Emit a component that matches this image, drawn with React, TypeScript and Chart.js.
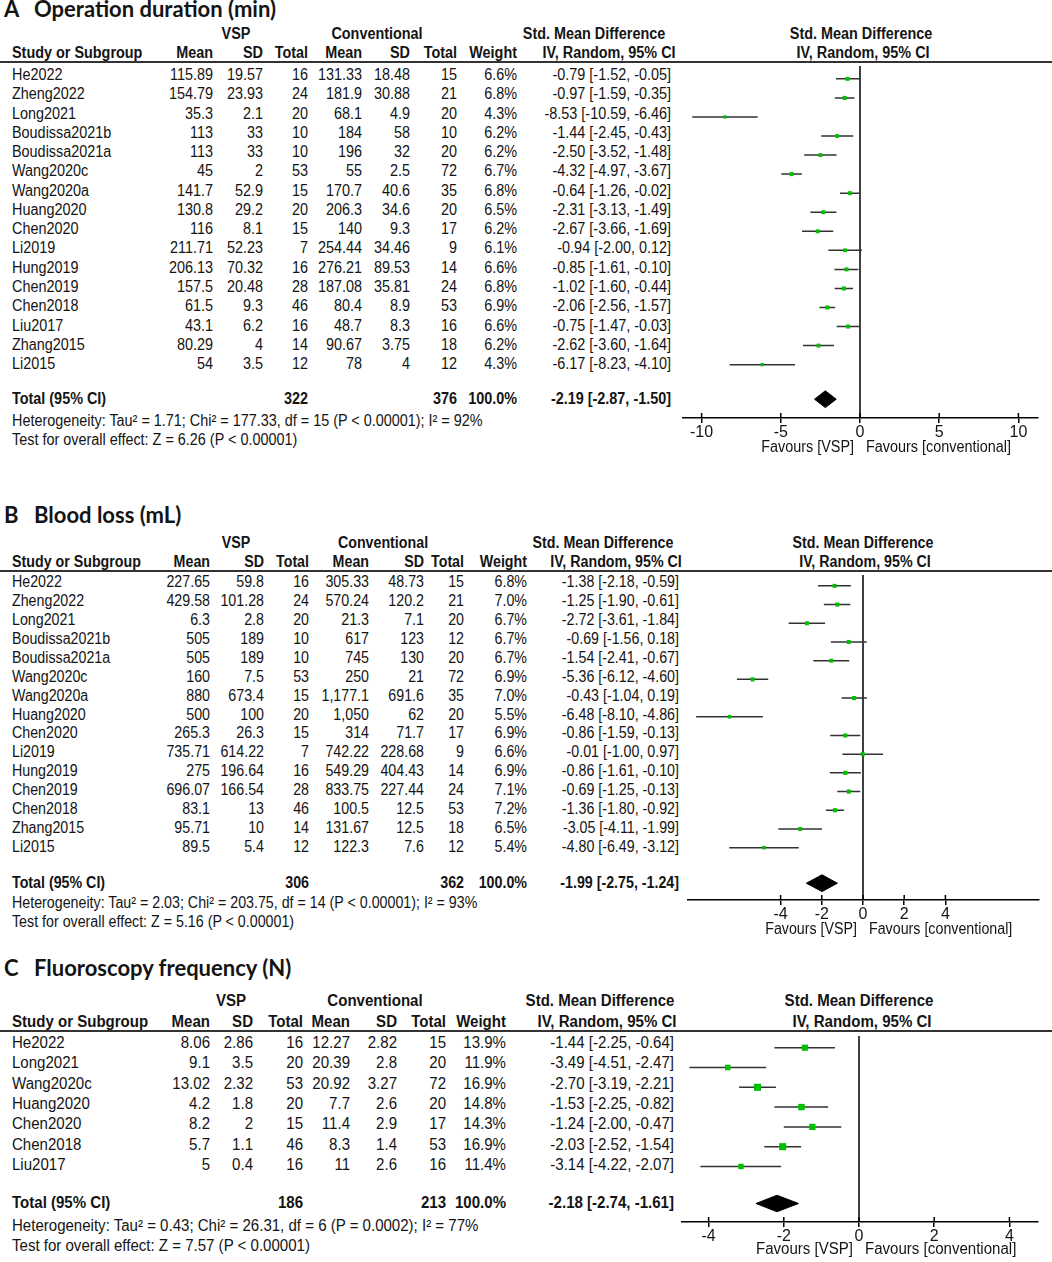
import React, { useEffect, useRef } from "react";
import { Chart, registerables } from "chart.js";
Chart.register(...registerables);

// ---------------- Panel A: Operation duration (min) ----------------
const aStudies = ["He2022", "Zheng2022", "Long2021", "Boudissa2021b", "Boudissa2021a", "Wang2020c", "Wang2020a", "Huang2020", "Chen2020", "Li2019", "Hung2019", "Chen2019", "Chen2018", "Liu2017", "Zhang2015", "Li2015"];
const aVspMean = [115.89, 154.79, 35.3, 113, 113, 45, 141.7, 130.8, 116, 211.71, 206.13, 157.5, 61.5, 43.1, 80.29, 54];
const aVspSd = [19.57, 23.93, 2.1, 33, 33, 2, 52.9, 29.2, 8.1, 52.23, 70.32, 20.48, 9.3, 6.2, 4, 3.5];
const aVspN = [16, 24, 20, 10, 10, 53, 15, 20, 15, 7, 16, 28, 46, 16, 14, 12];
const aConMean = [131.33, 181.9, 68.1, 184, 196, 55, 170.7, 206.3, 140, 254.44, 276.21, 187.08, 80.4, 48.7, 90.67, 78];
const aConSd = [18.48, 30.88, 4.9, 58, 32, 2.5, 40.6, 34.6, 9.3, 34.46, 89.53, 35.81, 8.9, 8.3, 3.75, 4];
const aConN = [15, 21, 20, 10, 20, 72, 35, 20, 17, 9, 14, 24, 53, 16, 18, 12];
const aWeight = [6.6, 6.8, 4.3, 6.2, 6.2, 6.7, 6.8, 6.5, 6.2, 6.1, 6.6, 6.8, 6.9, 6.6, 6.2, 4.3];
const aSmd = [-0.79, -0.97, -8.53, -1.44, -2.5, -4.32, -0.64, -2.31, -2.67, -0.94, -0.85, -1.02, -2.06, -0.75, -2.62, -6.17];
const aLo = [-1.52, -1.59, -10.59, -2.45, -3.52, -4.97, -1.26, -3.13, -3.66, -2.0, -1.61, -1.6, -2.56, -1.47, -3.6, -8.23];
const aHi = [-0.05, -0.35, -6.46, -0.43, -1.48, -3.67, -0.02, -1.49, -1.69, 0.12, -0.1, -0.44, -1.57, -0.03, -1.64, -4.1];
const aTotalN = [322, 376];
const aTotalCi = [-2.19, -2.87, -1.5];
const aHet = "Heterogeneity: Tau² = 1.71; Chi² = 177.33, df = 15 (P < 0.00001); I² = 92%";
const aTest = "Test for overall effect: Z = 6.26 (P < 0.00001)";
const aTicks = [-10, -5, 0, 5, 10];

// ---------------- Panel B: Blood loss (mL) ----------------
const bStudies = ["He2022", "Zheng2022", "Long2021", "Boudissa2021b", "Boudissa2021a", "Wang2020c", "Wang2020a", "Huang2020", "Chen2020", "Li2019", "Hung2019", "Chen2019", "Chen2018", "Zhang2015", "Li2015"];
const bVspMean = [227.65, 429.58, 6.3, 505, 505, 160, 880, 500, 265.3, 735.71, 275, 696.07, 83.1, 95.71, 89.5];
const bVspSd = [59.8, 101.28, 2.8, 189, 189, 7.5, 673.4, 100, 26.3, 614.22, 196.64, 166.54, 13, 10, 5.4];
const bVspN = [16, 24, 20, 10, 10, 53, 15, 20, 15, 7, 16, 28, 46, 14, 12];
const bConMean = [305.33, 570.24, 21.3, 617, 745, 250, 1177.1, 1050, 314, 742.22, 549.29, 833.75, 100.5, 131.67, 122.3];
const bConSd = [48.73, 120.2, 7.1, 123, 130, 21, 691.6, 62, 71.7, 228.68, 404.43, 227.44, 12.5, 12.5, 7.6];
const bConN = [15, 21, 20, 12, 20, 72, 35, 20, 17, 9, 14, 24, 53, 18, 12];
const bWeight = [6.8, 7.0, 6.7, 6.7, 6.7, 6.9, 7.0, 5.5, 6.9, 6.6, 6.9, 7.1, 7.2, 6.5, 5.4];
const bSmd = [-1.38, -1.25, -2.72, -0.69, -1.54, -5.36, -0.43, -6.48, -0.86, -0.01, -0.86, -0.69, -1.36, -3.05, -4.8];
const bLo = [-2.18, -1.9, -3.61, -1.56, -2.41, -6.12, -1.04, -8.1, -1.59, -1.0, -1.61, -1.25, -1.8, -4.11, -6.49];
const bHi = [-0.59, -0.61, -1.84, 0.18, -0.67, -4.6, 0.19, -4.86, -0.13, 0.97, -0.1, -0.13, -0.92, -1.99, -3.12];
const bTotalN = [306, 362];
const bTotalCi = [-1.99, -2.75, -1.24];
const bHet = "Heterogeneity: Tau² = 2.03; Chi² = 203.75, df = 14 (P < 0.00001); I² = 93%";
const bTest = "Test for overall effect: Z = 5.16 (P < 0.00001)";
const bTicks = [-4, -2, 0, 2, 4];

// ---------------- Panel C: Fluoroscopy frequency (N) ----------------
const cStudies = ["He2022", "Long2021", "Wang2020c", "Huang2020", "Chen2020", "Chen2018", "Liu2017"];
const cVspMean = [8.06, 9.1, 13.02, 4.2, 8.2, 5.7, 5];
const cVspSd = [2.86, 3.5, 2.32, 1.8, 2, 1.1, 0.4];
const cVspN = [16, 20, 53, 20, 15, 46, 16];
const cConMean = [12.27, 20.39, 20.92, 7.7, 11.4, 8.3, 11];
const cConSd = [2.82, 2.8, 3.27, 2.6, 2.9, 1.4, 2.6];
const cConN = [15, 20, 72, 20, 17, 53, 16];
const cWeight = [13.9, 11.9, 16.9, 14.8, 14.3, 16.9, 11.4];
const cSmd = [-1.44, -3.49, -2.7, -1.53, -1.24, -2.03, -3.14];
const cLo = [-2.25, -4.51, -3.19, -2.25, -2.0, -2.52, -4.22];
const cHi = [-0.64, -2.47, -2.21, -0.82, -0.47, -1.54, -2.07];
const cTotalN = [186, 213];
const cTotalCi = [-2.18, -2.74, -1.61];
const cHet = "Heterogeneity: Tau² = 0.43; Chi² = 26.31, df = 6 (P = 0.0002); I² = 77%";
const cTest = "Test for overall effect: Z = 7.57 (P < 0.00001)";
const cTicks = [-4, -2, 0, 2, 4];

// ---------------- layout ----------------
type PanelData = {
  letter: string; title: string; studies: string[];
  vspMean: number[]; vspSd: number[]; vspN: number[];
  conMean: number[]; conSd: number[]; conN: number[];
  weight: number[]; smd: number[]; lo: number[]; hi: number[];
  totalN: number[]; totalCi: number[]; het: string; test: string; ticks: number[];
};
type Layout = {
  titleY: number; hdr1Y: number; hdr2Y: number; lineY: number; row0Y: number; step: number;
  totalY: number; hetY: number; testY: number; axisY: number; favY: number;
  zeroX: number; ppu: number; axisLeft: number; axisRight: number;
  cols: number[]; vspC: number; conC: number; smdC: number; ivC: number; fSmdC: number; fIvC: number;
  sx: number;
};

const panelA: PanelData = { letter: "A", title: "Operation duration (min)", studies: aStudies, vspMean: aVspMean, vspSd: aVspSd, vspN: aVspN, conMean: aConMean, conSd: aConSd, conN: aConN, weight: aWeight, smd: aSmd, lo: aLo, hi: aHi, totalN: aTotalN, totalCi: aTotalCi, het: aHet, test: aTest, ticks: aTicks };
const panelB: PanelData = { letter: "B", title: "Blood loss (mL)", studies: bStudies, vspMean: bVspMean, vspSd: bVspSd, vspN: bVspN, conMean: bConMean, conSd: bConSd, conN: bConN, weight: bWeight, smd: bSmd, lo: bLo, hi: bHi, totalN: bTotalN, totalCi: bTotalCi, het: bHet, test: bTest, ticks: bTicks };
const panelC: PanelData = { letter: "C", title: "Fluoroscopy frequency (N)", studies: cStudies, vspMean: cVspMean, vspSd: cVspSd, vspN: cVspN, conMean: cConMean, conSd: cConSd, conN: cConN, weight: cWeight, smd: cSmd, lo: cLo, hi: cHi, totalN: cTotalN, totalCi: cTotalCi, het: cHet, test: cTest, ticks: cTicks };

const layoutA: Layout = { titleY: 9, hdr1Y: 34, hdr2Y: 53, lineY: 62, row0Y: 75, step: 19.27, totalY: 399, hetY: 421, testY: 440, axisY: 418, favY: 447, zeroX: 860, ppu: 15.84, axisLeft: 683, axisRight: 1038, cols: [213, 263, 308, 362, 410, 457, 517, 671], vspC: 236, conC: 377, smdC: 594, ivC: 609, fSmdC: 861, fIvC: 863, sx: 0.9 };
const layoutB: Layout = { titleY: 515, hdr1Y: 543, hdr2Y: 562, lineY: 571, row0Y: 582, step: 18.93, totalY: 883, hetY: 903, testY: 922, axisY: 900, favY: 929, zeroX: 863, ppu: 20.6, axisLeft: 688, axisRight: 1039, cols: [210, 264, 309, 369, 424, 464, 527, 679], vspC: 236, conC: 383, smdC: 603, ivC: 616, fSmdC: 863, fIvC: 865, sx: 0.89 };
const layoutC: Layout = { titleY: 968, hdr1Y: 1001, hdr2Y: 1022, lineY: 1031, row0Y: 1043, step: 20.33, totalY: 1203, hetY: 1226, testY: 1246, axisY: 1222, favY: 1249, zeroX: 859, ppu: 37.6, axisLeft: 682, axisRight: 1038, cols: [210, 253, 303, 350, 397, 446, 506, 674], vspC: 231, conC: 375, smdC: 600, ivC: 607, fSmdC: 859, fIvC: 862, sx: 0.94 };

const TEXT = "#141414";
const FONT = "'Liberation Sans', Arial, sans-serif";

const fmt = (v: number) => v.toLocaleString("en-US", { maximumFractionDigits: 2 });
const ci = (e: number, l: number, h: number) => `${e.toFixed(2)} [${l.toFixed(2)}, ${h.toFixed(2)}]`;

function T(props: { x: number; y: number; text: string; align?: "left" | "right" | "center"; bold?: boolean; size?: number; sx?: number; font?: string }) {
  const { x, y, text, align = "left", bold = false, size = 16, sx = 1, font = FONT } = props;
  const W = 1000;
  let left = x;
  if (align === "right") left = x - W;
  if (align === "center") left = x - W / 2;
  return (
    <div
      style={{
        position: "absolute", left, top: y - size / 2, width: W, height: size, lineHeight: `${size}px`,
        fontSize: size, fontWeight: bold ? 700 : 400, textAlign: align, whiteSpace: "nowrap",
        transform: `scaleX(${sx})`, transformOrigin: `${align} center`, fontFamily: font, color: TEXT,
      }}
    >
      {text}
    </div>
  );
}

const tickUp = {
  id: "tickUp",
  afterDraw(chart: any) {
    const s = chart.scales.x;
    const ctx = chart.ctx;
    const b = chart.chartArea.bottom;
    ctx.save();
    ctx.strokeStyle = "#000";
    ctx.lineWidth = 1.5;
    s.ticks.forEach((t: any) => {
      const px = s.getPixelForValue(t.value);
      ctx.beginPath();
      ctx.moveTo(px, b - 5);
      ctx.lineTo(px, b);
      ctx.stroke();
    });
    ctx.restore();
  },
};

function Forest({ d, L }: { d: PanelData; L: Layout }) {
  const ref = useRef<HTMLCanvasElement>(null);
  const plotH = L.axisY - L.lineY;
  const H = plotH + 26;
  useEffect(() => {
    const yMin = (L.lineY - L.row0Y) / L.step;
    const yMax = (L.axisY - L.row0Y) / L.step;
    const yT = (L.totalY - L.row0Y) / L.step;
    const dh = 8.5 / L.step;
    const ciData: any[] = [];
    d.lo.forEach((lo, i) => {
      ciData.push({ x: lo, y: i }, { x: d.hi[i], y: i }, { x: d.smd[i], y: null });
    });
    const [est, tlo, thi] = d.totalCi;
    const chart = new Chart(ref.current as HTMLCanvasElement, {
      type: "scatter",
      data: {
        datasets: [
          { type: "line", data: [{ x: 0, y: yMin }, { x: 0, y: yMax }], borderColor: "#000", borderWidth: 1.5, pointRadius: 0, order: 3 } as any,
          { type: "line", data: ciData, borderColor: "#333", borderWidth: 1.5, pointRadius: 0, spanGaps: false, order: 2 } as any,
          {
            type: "scatter", data: d.smd.map((v, i) => ({ x: v, y: i })), pointStyle: "rect",
            pointRadius: d.weight.map((w) => (2 + 0.3 * w) / Math.SQRT2), backgroundColor: "#00c000", borderWidth: 0, order: 0,
          } as any,
          {
            type: "line",
            data: [{ x: tlo, y: yT }, { x: est, y: yT - dh }, { x: thi, y: yT }, { x: est, y: yT + dh }, { x: tlo, y: yT }],
            fill: "shape", backgroundColor: "#000", borderColor: "#000", borderWidth: 1, pointRadius: 0, tension: 0, order: 1,
          } as any,
        ],
      },
      options: {
        responsive: false,
        animation: false,
        events: [],
        layout: { padding: { left: L.axisLeft, right: 1052 - L.axisRight, top: 0, bottom: 0 } },
        plugins: { legend: { display: false }, tooltip: { enabled: false } },
        scales: {
          x: {
            type: "linear",
            min: (L.axisLeft - L.zeroX) / L.ppu,
            max: (L.axisRight - L.zeroX) / L.ppu,
            afterBuildTicks: (s: any) => { s.ticks = d.ticks.map((v) => ({ value: v })); },
            afterFit: (s: any) => { s.height = H - plotH; },
            grid: { drawOnChartArea: false, drawTicks: true, tickLength: 5, color: "#000", lineWidth: 1.5 },
            border: { display: true, color: "#000", width: 1.5 },
            ticks: { autoSkip: false, maxRotation: 0, padding: 0, color: TEXT, font: { family: FONT, size: 16 } },
          },
          y: { type: "linear", display: false, reverse: true, min: yMin, max: yMax },
        },
      } as any,
      plugins: [tickUp],
    });
    return () => chart.destroy();
  }, []);
  return <canvas ref={ref} width={1052} height={H} style={{ position: "absolute", left: 0, top: L.lineY, width: 1052, height: H }} />;
}

function Panel({ d, L }: { d: PanelData; L: Layout }) {
  const s = L.sx;
  const c = L.cols;
  const hdr2 = ["Mean", "SD", "Total", "Mean", "SD", "Total", "Weight"];
  const titleFont = "Lato, 'Open Sans', sans-serif";
  return (
    <>
      <T x={4} y={L.titleY} text={d.letter} bold size={22} font={titleFont} />
      <T x={34} y={L.titleY} text={d.title} bold size={22} font={titleFont} />
      <T x={L.vspC} y={L.hdr1Y} text="VSP" bold align="center" sx={s} />
      <T x={L.conC} y={L.hdr1Y} text="Conventional" bold align="center" sx={s} />
      <T x={L.smdC} y={L.hdr1Y} text="Std. Mean Difference" bold align="center" sx={s} />
      <T x={L.fSmdC} y={L.hdr1Y} text="Std. Mean Difference" bold align="center" sx={s} />
      <T x={12} y={L.hdr2Y} text="Study or Subgroup" bold sx={s} />
      {hdr2.map((h, i) => <T key={"h" + i} x={c[i]} y={L.hdr2Y} text={h} bold align="right" sx={s} />)}
      <T x={L.ivC} y={L.hdr2Y} text="IV, Random, 95% CI" bold align="center" sx={s} />
      <T x={L.fIvC} y={L.hdr2Y} text="IV, Random, 95% CI" bold align="center" sx={s} />
      <div style={{ position: "absolute", left: 0, top: L.lineY - 1, width: 1052, height: 2, background: "#333" }} />
      {d.studies.map((name, i) => {
        const y = L.row0Y + i * L.step;
        const vals = [fmt(d.vspMean[i]), fmt(d.vspSd[i]), String(d.vspN[i]), fmt(d.conMean[i]), fmt(d.conSd[i]), String(d.conN[i]), d.weight[i].toFixed(1) + "%", ci(d.smd[i], d.lo[i], d.hi[i])];
        return (
          <React.Fragment key={name + i}>
            <T x={12} y={y} text={name} sx={s} />
            {vals.map((v, j) => <T key={j} x={c[j]} y={y} text={v} align="right" sx={s} />)}
          </React.Fragment>
        );
      })}
      <T x={12} y={L.totalY} text="Total (95% CI)" bold sx={s} />
      <T x={c[2]} y={L.totalY} text={String(d.totalN[0])} bold align="right" sx={s} />
      <T x={c[5]} y={L.totalY} text={String(d.totalN[1])} bold align="right" sx={s} />
      <T x={c[6]} y={L.totalY} text="100.0%" bold align="right" sx={s} />
      <T x={c[7]} y={L.totalY} text={ci(d.totalCi[0], d.totalCi[1], d.totalCi[2])} bold align="right" sx={s} />
      <T x={12} y={L.hetY} text={d.het} sx={s} />
      <T x={12} y={L.testY} text={d.test} sx={s} />
      <Forest d={d} L={L} />
      <T x={L.zeroX - 6} y={L.favY} text="Favours [VSP]" align="right" sx={s} />
      <T x={L.zeroX + 6} y={L.favY} text="Favours [conventional]" sx={s} />
    </>
  );
}

export default function App() {
  return (
    <div style={{ position: "absolute", left: 0, top: 0, width: 1052, height: 1262, overflow: "hidden", background: "#fff", fontFamily: FONT }}>
      <Panel d={panelA} L={layoutA} />
      <Panel d={panelB} L={layoutB} />
      <Panel d={panelC} L={layoutC} />
    </div>
  );
}
